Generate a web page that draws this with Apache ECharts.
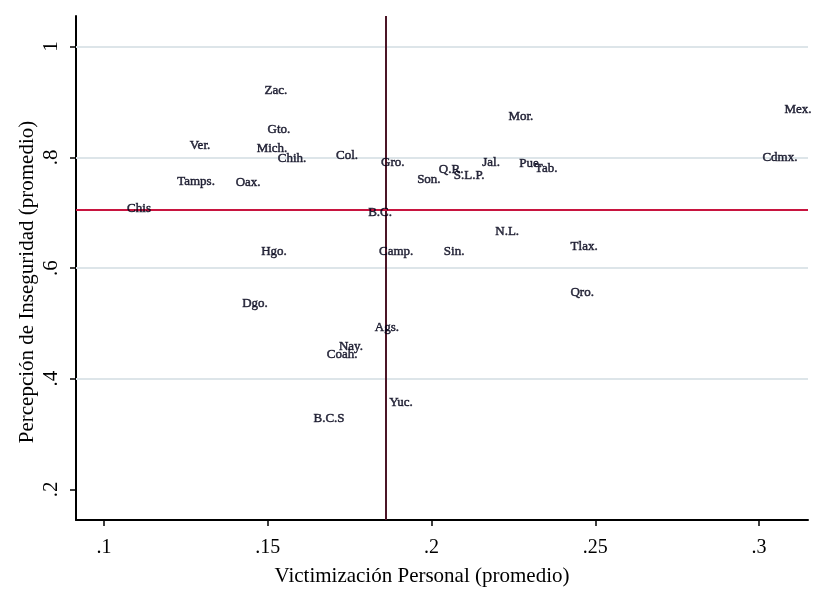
<!DOCTYPE html>
<html>
<head>
<meta charset="utf-8">
<script src="https://cdn.jsdelivr.net/npm/echarts@6/dist/echarts.min.js"></script>
<style>
  html, body { margin: 0; padding: 0; background: #fff; }
  #chart { width: 825px; height: 592px; }
</style>
</head>
<body>
<div id="chart"></div>
<script>
// estados y sus promedios
var estados = ['Zac.', 'Gto.', 'Ver.', 'Mich.', 'Chih.', 'Col.', 'Gro.', 'Tamps.', 'Oax.', 'Chis',
  'B.C.', 'Hgo.', 'Camp.', 'Sin.', 'Dgo.', 'Ags.', 'Nay.', 'Coah.', 'Yuc.', 'B.C.S',
  'Son.', 'Q.R.', 'S.L.P.', 'Jal.', 'Pue.', 'Tab.', 'Mor.', 'N.L.', 'Tlax.', 'Qro.', 'Mex.', 'Cdmx.'];
var victimizacion = [0.1525, 0.1534, 0.1293, 0.1513, 0.1574, 0.1742, 0.1882, 0.1281, 0.1440, 0.1107,
  0.1843, 0.1519, 0.1892, 0.2069, 0.1461, 0.1864, 0.1754, 0.1727, 0.1907, 0.1687,
  0.1992, 0.2060, 0.2115, 0.2182, 0.2303, 0.2350, 0.2273, 0.2231, 0.2466, 0.2460, 0.3119, 0.3064];
var percepcion = [0.9205, 0.850, 0.821, 0.816, 0.798, 0.803, 0.790, 0.756, 0.754, 0.7075,
  0.700, 0.630, 0.630, 0.630, 0.536, 0.492, 0.458, 0.444, 0.357, 0.328,
  0.760, 0.778, 0.767, 0.790, 0.788, 0.780, 0.874, 0.666, 0.639, 0.556, 0.886, 0.800];

var mediaX = 0.1861;   // promedio victimizacion
var mediaY = 0.7056;   // promedio percepcion

var xTicks = [0.1, 0.15, 0.2, 0.25, 0.3];
var yTicks = [0.2, 0.4, 0.6, 0.8, 1];
var yGrid = [0.4, 0.6, 0.8, 1];

function sinCero(v) {
  var s = String(Math.round(v * 100) / 100);
  return s.indexOf('0.') === 0 ? s.substring(1) : s;
}

var puntos = estados.map(function (n, i) {
  return { name: n, value: [victimizacion[i], percepcion[i]] };
});

var fuente = 'Liberation Serif';
var myChart = echarts.init(document.getElementById('chart'));
myChart.setOption({
  backgroundColor: '#fff',
  animation: false,
  grid: { left: 76, top: 16, right: 17, bottom: 72 },
  xAxis: {
    type: 'value',
    min: 0.09145,
    max: 0.31496,
    name: 'Victimización Personal (promedio)',
    nameLocation: 'middle',
    nameGap: 46,
    nameTextStyle: { fontFamily: fuente, fontSize: 21, color: '#000', padding: [0, 40, 0, 0] },
    axisLine: { show: true, lineStyle: { color: '#000', width: 2 } },
    axisTick: { show: true, length: 6, lineStyle: { color: '#000', width: 1.5 }, customValues: xTicks },
    axisLabel: {
      fontFamily: fuente, fontSize: 20, color: '#000', margin: 18,
      customValues: xTicks, formatter: sinCero
    },
    splitLine: { show: false }
  },
  yAxis: {
    type: 'value',
    min: 0.1448,
    max: 1.0552,
    name: 'Percepción de Inseguridad (promedio)',
    nameLocation: 'middle',
    nameGap: 38,
    nameMoveOverlap: false,
    nameTextStyle: { fontFamily: fuente, fontSize: 21, color: '#000', padding: [0, 28, 0, 0] },
    axisLine: { show: true, lineStyle: { color: '#000', width: 2 } },
    axisTick: { show: true, length: 6, lineStyle: { color: '#000', width: 1.5 }, customValues: yTicks },
    axisLabel: {
      fontFamily: fuente, fontSize: 21, color: '#000', margin: 14, rotate: 90,
      customValues: yTicks, formatter: sinCero
    },
    splitLine: { show: false }
  },
  series: [
    {
      // lineas de cuadricula
      type: 'scatter',
      data: [],
      silent: true,
      z: 1,
      markLine: {
        silent: true,
        symbol: 'none',
        precision: 4,
        label: { show: false },
        lineStyle: { color: '#dde5e9', width: 2, type: 'solid' },
        data: yGrid.map(function (v) { return { yAxis: v }; })
      }
    },
    {
      type: 'scatter',
      z: 5,
      data: puntos,
      symbolSize: 1,
      itemStyle: { color: 'rgba(0,0,0,0)' },
      label: {
        show: true,
        position: 'inside',
        formatter: '{b}',
        fontFamily: fuente,
        fontSize: 13,
        color: '#000018',
        textBorderColor: '#000018',
        textBorderWidth: 0.5
      },
      labelLayout: { hideOverlap: false },
      markLine: {
        silent: true,
        symbol: 'none',
        precision: 4,
        label: { show: false },
        data: [
          { xAxis: mediaX, lineStyle: { color: '#4b1526', width: 2, type: 'solid' } },
          { yAxis: mediaY, lineStyle: { color: '#c8143f', width: 2, type: 'solid' } }
        ]
      }
    }
  ]
});
</script>
</body>
</html>
